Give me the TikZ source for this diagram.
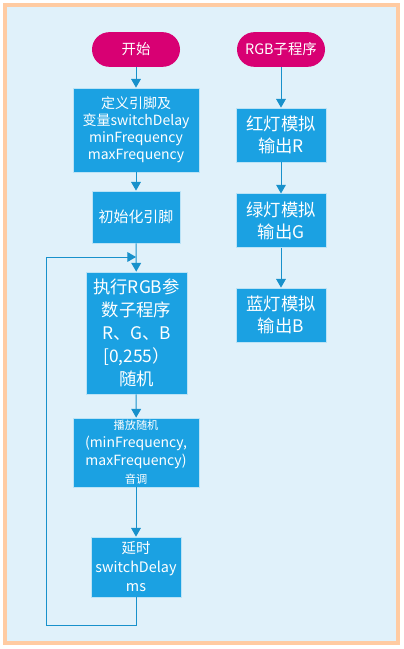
\documentclass[tikz,border=0pt]{standalone}
\usepackage{fontspec}
\setmainfont{Noto Sans CJK SC}
\usepackage{tikz}
\usetikzlibrary{positioning}
\usepgflibrary{arrows}
\definecolor{metroblue}{HTML}{1BA1E2}
\definecolor{metromagenta}{HTML}{D80073}
\definecolor{paleback}{HTML}{E0F1FA}
\definecolor{peach}{HTML}{FFCBA2}
\tikzset{proc node/.style={rectangle,fill=metroblue,draw=white!70!metroblue,line width=0.6pt,
           text=white,align=center,inner sep=0pt,font=\fontsize{10.5}{12.75}\selectfont},
         term node/.style={rectangle,rounded corners=13pt,fill=metromagenta,text=white,
           minimum width=66pt,minimum height=26pt,inner sep=0pt,font=\fontsize{10.8}{13}\selectfont},}
\tikzstyle{flow} = [metroblue!90!black, line width=0.75pt, -triangle 60]

\begin{document}
\begin{tikzpicture}[x=0.75pt,y=-0.75pt]
    \useasboundingbox (0,0) rectangle (403,649);
    \draw[peach,line width=2.6pt,fill=paleback] (5,5) rectangle (398,643);
    % main program
    \node[term node] (start) at (136,49.5) {开始};
    \node[proc node,minimum width=94.5pt,minimum height=63pt] (def) at (136,130)
        {定义引脚及\\变量switchDelay\\minFrequency\\maxFrequency};
    \node[proc node,minimum width=66pt,minimum height=39pt,font=\fontsize{11.2}{13}\selectfont] (init) at (136,217) {初始化引脚};
    \node[proc node,minimum width=75.75pt,minimum height=91.5pt,font=\fontsize{13}{17.25}\selectfont] (rgb) at (136.5,333)
        {执行RGB参\\数子程序\\R、G、B\\{[0,255）}\\随机};
    \node[proc node,minimum width=94.5pt,minimum height=51.75pt,font=\fontsize{10.5}{13.5}\selectfont] (play) at (136,452.5)
        {{\fontsize{8.4}{10}\selectfont 播放随机}\\(minFrequency,\\maxFrequency)\\{\fontsize{8.4}{10}\selectfont 音调}};
    \node[proc node,minimum width=67.5pt,minimum height=45pt,font=\fontsize{10.8}{14.25}\selectfont] (delay) at (136,567)
        {延时\\switchDelay\\ms};
    % RGB subroutine
    \node[term node] (sub) at (281,49.5) {RGB子程序};
    \node[proc node,minimum width=67.5pt,minimum height=40.5pt,font=\fontsize{13}{16.5}\selectfont] (red) at (281,135) {红灯模拟\\输出R};
    \node[proc node,minimum width=67.5pt,minimum height=40pt,font=\fontsize{13}{16.5}\selectfont] (green) at (281,220.5) {绿灯模拟\\输出G};
    \node[proc node,minimum width=67.5pt,minimum height=40.5pt,font=\fontsize{13}{16.5}\selectfont] (blue) at (281,315) {蓝灯模拟\\输出B};
    \coordinate (back) at (46,625);
    \coordinate (join) at (136,257);
    \draw[flow] (start) -- (def);
    \draw[flow] (def) -- (init);
    \draw[flow] (init) -- (rgb);
    \draw[flow] (rgb) -- (play);
    \draw[flow] (play) -- (delay);
    \draw[flow] (delay.south) |- (back) |- (join);
    \draw[flow] (sub) -- (red);
    \draw[flow] (red) -- (green);
    \draw[flow] (green) -- (blue);
\end{tikzpicture}
\end{document}
